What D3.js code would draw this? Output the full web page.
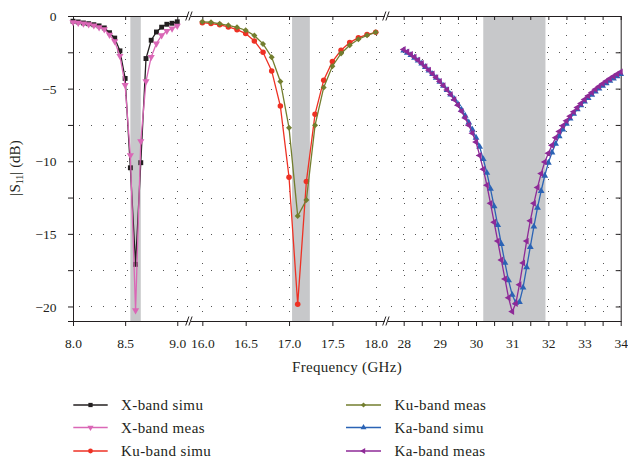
<!DOCTYPE html>
<html><head><meta charset="utf-8">
<script src="https://cdn.jsdelivr.net/npm/d3@7"></script>
<style>
body{margin:0;background:#fff}
svg{display:block}
text{font-family:"Liberation Serif","Times New Roman",serif;fill:#231f20}
</style>
</head><body>
<svg id="chart" width="628" height="462"></svg>
<script>
// ---- frequencies (GHz) ----
const xFreq = [8.00,8.05,8.10,8.15,8.20,8.25,8.30,8.35,8.40,8.45,8.50,8.55,8.60,8.65,8.70,8.75,8.80,8.85,8.90,8.95,9.00];
const kuFreq = [16.0,16.1,16.2,16.3,16.4,16.5,16.6,16.7,16.8,16.9,17.0,17.1,17.2,17.3,17.4,17.5,17.6,17.7,17.8,17.9,18.0];
const kaFreq = [28.0,28.1,28.2,28.3,28.4,28.5,28.6,28.7,28.8,28.9,29.0,29.1,29.2,29.3,29.4,29.5,29.6,29.7,29.8,29.9,
                30.0,30.1,30.2,30.3,30.4,30.5,30.6,30.7,30.8,30.9,31.0,31.1,31.2,31.3,31.4,31.5,31.6,31.7,31.8,31.9,
                32.0,32.1,32.2,32.3,32.4,32.5,32.6,32.7,32.8,32.9,33.0,33.1,33.2,33.3,33.4,33.5,33.6,33.7,33.8,33.9,34.0];

// ---- |S11| in dB ----
const xSimu = [-0.36,-0.41,-0.48,-0.53,-0.60,-0.68,-0.82,-1.15,-1.52,-2.40,-4.30,-10.45,-17.10,-10.10,-2.93,-1.67,-1.10,-0.77,-0.57,-0.50,-0.40];
const xMeas = [-0.43,-0.47,-0.52,-0.58,-0.65,-0.78,-0.92,-1.30,-1.75,-2.75,-4.76,-9.60,-20.27,-8.63,-4.50,-2.82,-1.90,-1.33,-1.03,-0.87,-0.68];
const kuSimu = [-0.46,-0.52,-0.61,-0.75,-0.94,-1.21,-1.72,-2.50,-3.78,-6.20,-11.10,-19.84,-11.40,-6.76,-4.42,-3.14,-2.36,-1.83,-1.49,-1.28,-1.12];
const kuMeas = [-0.40,-0.43,-0.54,-0.64,-0.78,-0.98,-1.35,-1.92,-2.84,-4.51,-7.70,-13.77,-12.67,-7.53,-4.92,-3.46,-2.58,-2.01,-1.60,-1.33,-1.12];
const kaSimu = [-2.38,-2.53,-2.69,-2.87,-3.07,-3.28,-3.51,-3.75,-4.00,-4.26,-4.53,-4.81,-5.10,-5.40,-5.72,-6.07,-6.45,-6.87,-7.33,-7.83,
                -8.38,-9.00,-9.85,-10.80,-11.90,-13.10,-14.40,-15.70,-17.00,-18.20,-19.20,-19.75,-19.70,-18.70,-17.30,-15.90,-14.50,-13.20,-12.05,-11.00,
                -10.10,-9.40,-8.80,-8.28,-7.82,-7.42,-7.06,-6.73,-6.43,-6.15,-5.89,-5.65,-5.42,-5.20,-5.00,-4.81,-4.63,-4.46,-4.30,-4.15,-4.00];
const kaMeas = [-2.30,-2.47,-2.64,-2.83,-3.04,-3.26,-3.49,-3.73,-3.98,-4.24,-4.51,-4.79,-5.09,-5.41,-5.76,-6.14,-6.56,-7.02,-7.52,-8.07,
                -8.68,-9.60,-10.55,-11.65,-12.90,-14.20,-15.50,-16.80,-18.10,-19.40,-20.35,-19.80,-18.50,-17.00,-15.50,-14.10,-12.90,-11.80,-10.85,-10.05,
                -9.45,-8.90,-8.38,-7.95,-7.55,-7.22,-6.90,-6.60,-6.30,-6.02,-5.75,-5.50,-5.27,-5.05,-4.85,-4.66,-4.48,-4.31,-4.15,-4.00,-3.85];

// ---- operating bands (GHz) ----
const xBand = [8.55, 8.65];
const kuBand = [17.035, 17.24];
const kaBand = [30.2, 31.92];

// ---- tick labels ----
const xTicks = ["8.0","8.5","9.0"];
const kuTicks = ["16.0","16.5","17.0","17.5","18.0"];
const kaTicks = ["28","29","30","31","32","33","34"];
const kaMinor = [28.5,29.5,30.5,31.5,32.5,33.5];
const yTicks = [0,-2.5,-5,-7.5,-10,-12.5,-15,-17.5,-20];

const legendNames = ["X-band simu","X-band meas","Ku-band simu","Ku-band meas","Ka-band simu","Ka-band meas"];

// ---- layout ----
const svg = d3.select("#chart");
const plotTop = 16, plotBottom = 321, plotLeft = 73, plotRight = 620.7;
const ink = "#231f20";

const y = d3.scaleLinear().domain([-21, 0]).range([plotBottom, plotTop]);

const segs = [
  {x: d3.scaleLinear().domain([7.9999, 9.1]).range([plotLeft, 187.7]),
   ticks: xTicks.map(Number), labels: xTicks, grid: [8.5, 9.0], band: xBand},
  {x: d3.scaleLinear().domain([15.86, 18.1]).range([190.2, 384.4]),
   ticks: kuTicks.map(Number), labels: kuTicks, grid: kuTicks.map(Number), band: kuBand},
  {x: d3.scaleLinear().domain([27.55, 34]).range([387.4, plotRight]),
   ticks: kaTicks.map(Number).concat(kaMinor).sort((a,b)=>a-b), labels: kaTicks,
   grid: kaTicks.map(Number).concat(kaMinor).filter(v => v < 34), band: kaBand}
];

// dotted grid
const gGrid = svg.append("g").attr("stroke", "#555").attr("stroke-width", 1)
  .attr("stroke-dasharray", "1 11").attr("fill", "none");
yTicks.filter(v => v < 0).forEach(v => {
  gGrid.append("line").attr("x1", plotLeft + 6).attr("x2", plotRight)
    .attr("y1", Math.round(y(v)) + 0.5).attr("y2", Math.round(y(v)) + 0.5);
});
segs.forEach(s => s.grid.forEach(v => {
  const xx = Math.round(s.x(v)) + 0.5;
  gGrid.append("line").attr("x1", xx).attr("x2", xx).attr("y1", plotTop + 7).attr("y2", plotBottom);
}));

// shaded operating bands
segs.forEach(s => {
  svg.append("rect").attr("x", s.x(s.band[0])).attr("width", s.x(s.band[1]) - s.x(s.band[0]))
    .attr("y", plotTop).attr("height", plotBottom - plotTop).attr("fill", "#c7c8ca");
});

// axes
segs.forEach((s, i) => {
  const ax = d3.axisBottom(s.x).tickValues(s.ticks).tickSizeOuter(0).tickSizeInner(5)
    .tickFormat(d => { const k = s.labels.indexOf(i === 2 ? String(d) : d.toFixed(1)); return k >= 0 ? s.labels[k] : ""; });
  const gb = svg.append("g").attr("transform", `translate(0,${plotBottom})`).call(ax);
  gb.selectAll("text").attr("font-size", "13.5px").attr("fill", ink).attr("y", 27).attr("dy", null);
  const at = d3.axisBottom(s.x).tickValues(s.ticks).tickSizeOuter(0).tickSizeInner(4).tickFormat("");
  svg.append("g").attr("transform", `translate(0,${plotTop})`).call(at);
});

const gl = svg.append("g").attr("transform", `translate(${plotLeft},0)`)
  .call(d3.axisLeft(y).tickValues(yTicks).tickSizeOuter(0).tickSize(5)
    .tickFormat(d => d % 5 === 0 ? d3.format("")(d) : ""));
gl.selectAll("text").attr("font-size", "13.5px").attr("fill", ink).attr("x", -16.5).attr("dy", "0.34em");
svg.append("g").attr("transform", `translate(${plotRight},0)`)
  .call(d3.axisLeft(y).tickValues(yTicks).tickSizeOuter(0).tickSize(5).tickFormat(""));
svg.selectAll(".domain, .tick line").attr("stroke", ink);

// axis break marks
[188.9, 385.9].forEach(bx => [plotTop, plotBottom].forEach(by => {
  const g = svg.append("g").attr("stroke", ink).attr("stroke-width", 1);
  [-1.6, 1.6].forEach(o => g.append("line")
    .attr("x1", bx + o - 1.6).attr("y1", by + 4.5).attr("x2", bx + o + 1.6).attr("y2", by - 4.5));
}));

// series
const series = [
  {freq: xFreq, vals: xSimu, seg: 0, color: ink, sym: d3.symbolSquare, size: 24, rot: 0},
  {freq: xFreq, vals: xMeas, seg: 0, color: "#da67b6", sym: d3.symbolTriangle, size: 22, rot: 180},
  {freq: kuFreq, vals: kuSimu, seg: 1, color: "#ee3124", sym: d3.symbolCircle, size: 24, rot: 0},
  {freq: kuFreq, vals: kuMeas, seg: 1, color: "#737e2f", sym: d3.symbolSquare, size: 18, rot: 45},
  {freq: kaFreq, vals: kaSimu, seg: 2, color: "#2b63b5", sym: d3.symbolTriangle, size: 20, rot: 0},
  {freq: kaFreq, vals: kaMeas, seg: 2, color: "#8e2a97", sym: d3.symbolTriangle, size: 20, rot: -90}
];

series.forEach(s => {
  const xs = segs[s.seg].x;
  const pts = s.freq.map((f, i) => [xs(f), y(s.vals[i])]);
  svg.append("path").datum(pts).attr("fill", "none").attr("stroke", s.color)
    .attr("stroke-width", 1.3).attr("d", d3.line());
  svg.append("g").selectAll("path").data(pts).join("path")
    .attr("transform", d => `translate(${d[0]},${d[1]}) rotate(${s.rot})`)
    .attr("d", d3.symbol(s.sym, s.size)).attr("fill", s.color);
});

// axis titles
svg.append("text").attr("x", 347).attr("y", 372).attr("text-anchor", "middle")
  .attr("font-size", "15px").attr("letter-spacing", "0.3px").text("Frequency (GHz)");
const yl = svg.append("text").attr("transform", "translate(20,168) rotate(-90)")
  .attr("text-anchor", "middle").attr("font-size", "15px");
yl.append("tspan").text("|S");
yl.append("tspan").attr("font-size", "10px").attr("dy", "3").text("11");
yl.append("tspan").attr("dy", "-3").text("| (dB)");

// legend
const legX = [[73.3, 107.7, 121], [346, 381, 394.5]];
const legY = [405, 427.5, 451];
series.forEach((s, i) => {
  const c = Math.floor(i / 3), r = i % 3;
  const [x1, x2, tx] = legX[c], ly = legY[r];
  svg.append("line").attr("x1", x1).attr("x2", x2).attr("y1", ly).attr("y2", ly)
    .attr("stroke", s.color).attr("stroke-width", 1.6);
  svg.append("path").attr("transform", `translate(${(x1 + x2) / 2},${ly}) rotate(${s.rot})`)
    .attr("d", d3.symbol(s.sym, s.size * 0.75)).attr("fill", s.color);
  svg.append("text").attr("x", tx).attr("y", ly + 5).attr("font-size", "15px")
    .attr("letter-spacing", "0.4px").text(legendNames[i]);
});
</script>
</body></html>
